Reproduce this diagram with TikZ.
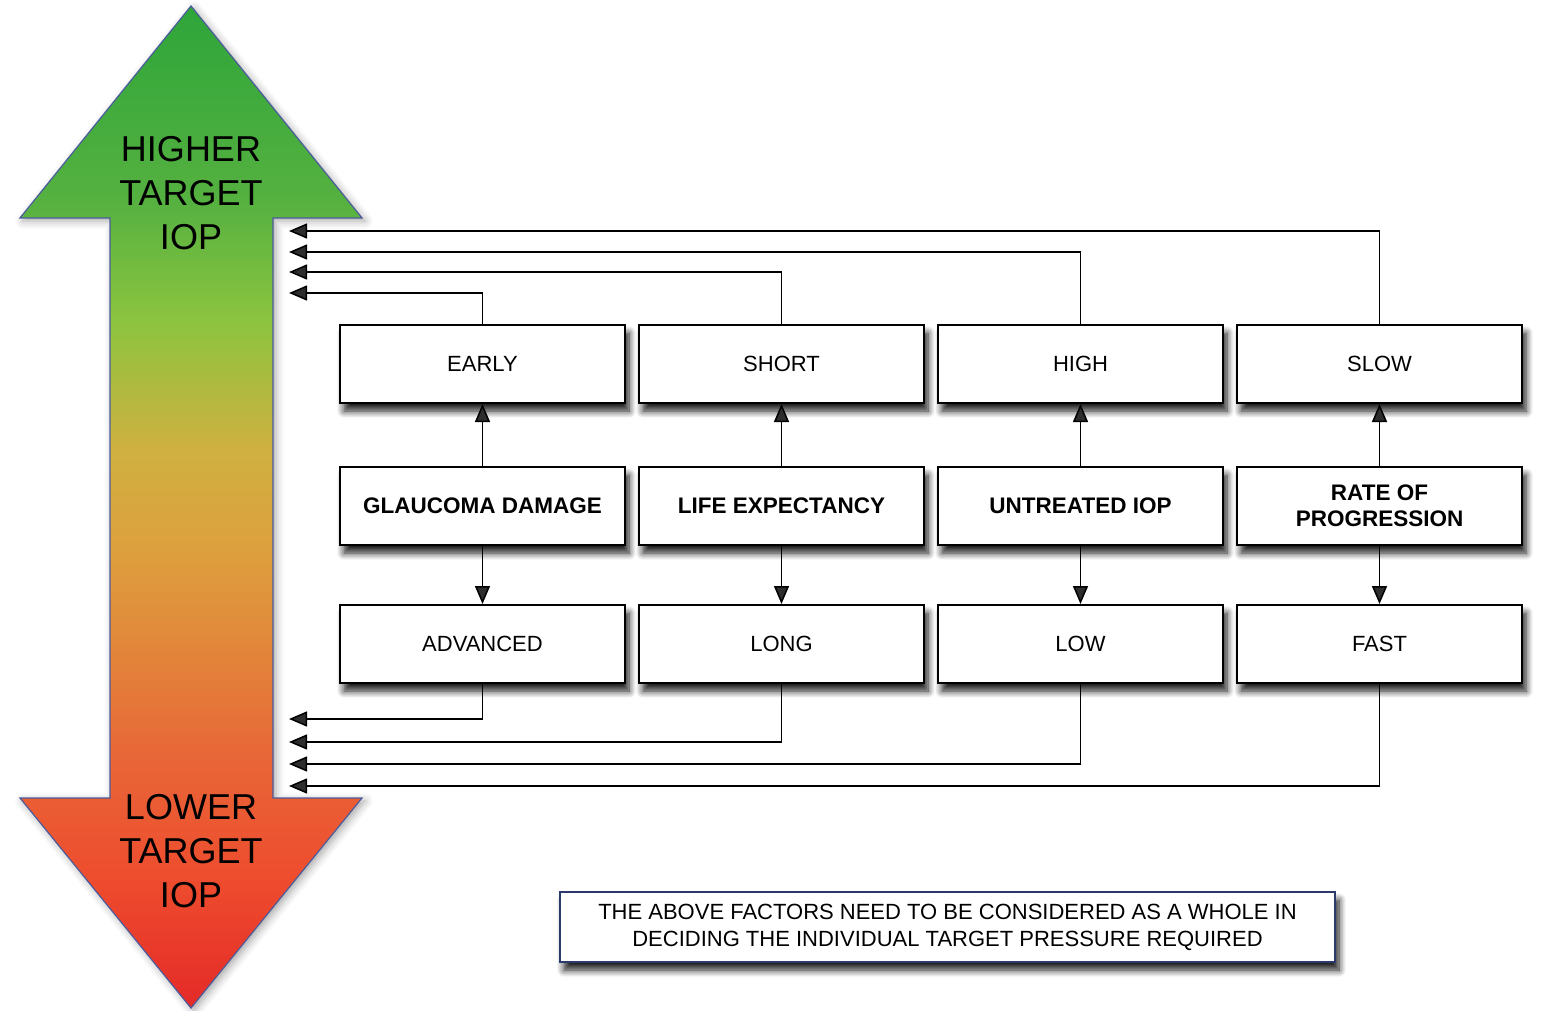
\documentclass[tikz,border=0pt]{standalone}
\usepackage{fontspec}
\setmainfont{Liberation Sans}
\usetikzlibrary{positioning, arrows.meta, shadows.blur}
\definecolor{iopgn}{HTML}{2EA53A}
\definecolor{iopgm}{HTML}{55B140}
\definecolor{ioplg}{HTML}{8CC43F}
\definecolor{iopye}{HTML}{D0B040}
\definecolor{iopog}{HTML}{DDA03E}
\definecolor{iopor}{HTML}{E2863A}
\definecolor{iopoa}{HTML}{E86838}
\definecolor{iopro}{HTML}{EE4C2E}
\definecolor{ioprd}{HTML}{E42A28}
\definecolor{iopedge}{HTML}{4B5C9C}
\definecolor{noteedge}{HTML}{2B3A6B}
\pgfdeclareverticalshading{iopshade}{100bp}{color(0bp)=(ioprd); color(25bp)=(ioprd);
  color(31.4bp)=(iopro); color(37.9bp)=(iopoa); color(42.9bp)=(iopor); color(47.9bp)=(iopog);
  color(52.8bp)=(iopye); color(59.3bp)=(ioplg); color(65.3bp)=(iopgm); color(75bp)=(iopgn);
  color(100bp)=(iopgn)}
\tikzset{block/.style={draw, line width=2pt, fill=white, minimum width=285pt, minimum height=78pt,
    align=center, font=\fontsize{22}{25}\selectfont,
    blur shadow={shadow xshift=4pt, shadow yshift=-8pt, shadow blur radius=7pt, shadow blur steps=8, shadow opacity=90}},
  key/.style={block, font=\fontsize{22.5}{26}\selectfont\bfseries},
  line/.style={-{Triangle[length=18pt,width=15pt]}, line width=1.5pt},
  bigtext/.style={align=center, font=\fontsize{36}{44}\selectfont}
}

\begin{document}
\begin{tikzpicture}[x=1pt, y=-1pt]
\useasboundingbox (0,0) rectangle (1542,1011);
% the big two-headed arrow
\path[shading=iopshade, draw=iopedge, line width=1.2pt,
  blur shadow={shadow xshift=3pt, shadow yshift=-3pt, shadow blur radius=8pt, shadow opacity=35}]
  (191,6) -- (362,218) -- (273,218) -- (273,798) -- (362,798) -- (191,1008)
  -- (20,798) -- (110,798) -- (110,218) -- (20,218) -- cycle;
\node[bigtext] (higher) at (191,193) {HIGHER\\TARGET\\IOP};
\node[bigtext] (lower) at (191,851) {LOWER\\TARGET\\IOP};
% top row, middle row, bottom row
\node[block] (early) at (482.5,364) {EARLY};
\node[block, right=12pt of early] (short) {SHORT};
\node[block, right=12pt of short] (high) {HIGH};
\node[block, right=12pt of high] (slow) {SLOW};
\node[key, below=62pt of early] (damage) {GLAUCOMA DAMAGE};
\node[key, below=62pt of short] (life) {LIFE EXPECTANCY};
\node[key, below=62pt of high] (untreated) {UNTREATED IOP};
\node[key, below=62pt of slow] (rate) {RATE OF\\PROGRESSION};
\node[block, below=58pt of damage] (advanced) {ADVANCED};
\node[block, below=58pt of life] (long) {LONG};
\node[block, below=58pt of untreated] (low) {LOW};
\node[block, below=58pt of rate] (fast) {FAST};
\foreach \a/\b/\c in {damage/early/advanced, life/short/long, untreated/high/low, rate/slow/fast}{
  \draw[line] (\a) -- (\b);
  \draw[line] (\a) -- (\c);
}
% back to the arrow
\foreach \n/\y in {early/293, short/272, high/252, slow/231}{
  \coordinate (up-\n) at (289,\y);
  \draw[line] (\n.north) |- (up-\n);
}
\foreach \n/\y in {advanced/719, long/742, low/764, fast/786}{
  \coordinate (dn-\n) at (289,\y);
  \draw[line] (\n.south) |- (dn-\n);
}
\node[draw=noteedge, line width=1.5pt, fill=white, minimum width=775pt, minimum height=70pt,
  align=center, font=\fontsize{22}{27}\selectfont,
  blur shadow={shadow xshift=4pt, shadow yshift=-8pt, shadow blur radius=7pt, shadow blur steps=8, shadow opacity=90}]
  (note) at (947.5,927) {THE ABOVE FACTORS NEED TO BE CONSIDERED AS A WHOLE IN\\DECIDING THE INDIVIDUAL TARGET PRESSURE REQUIRED};
\end{tikzpicture}
\end{document}
